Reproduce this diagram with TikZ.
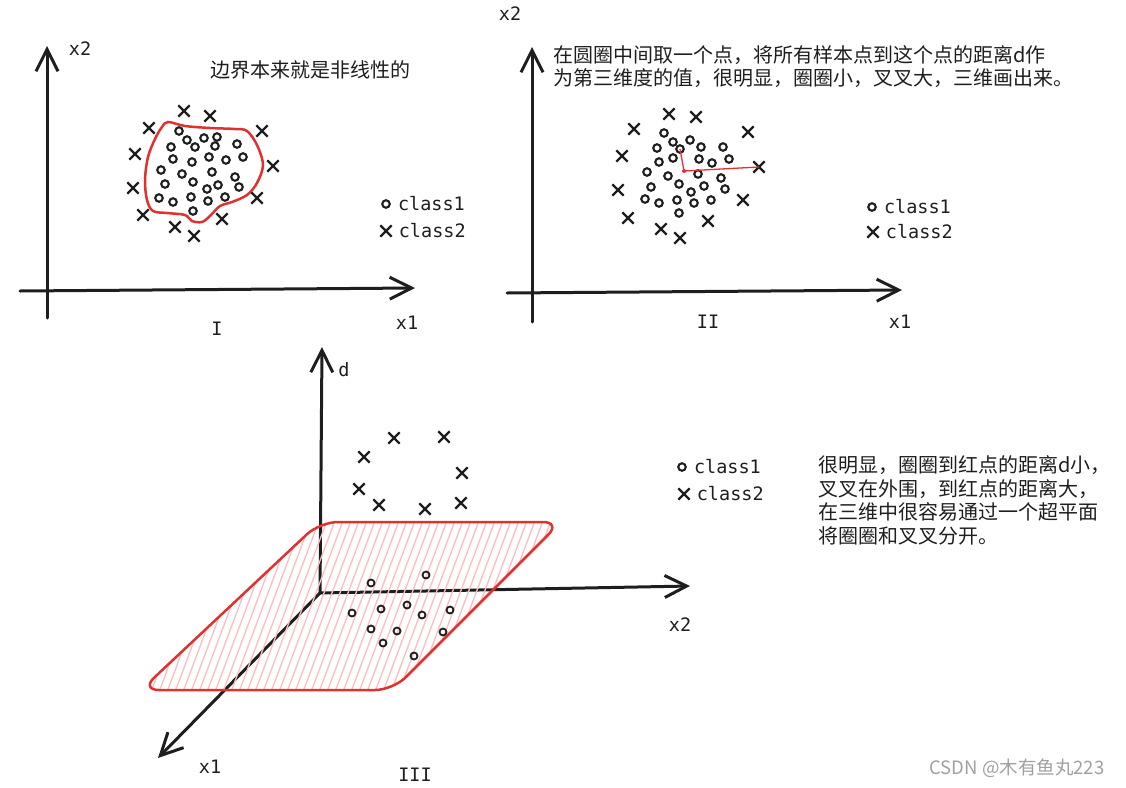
\documentclass[tikz,border=0pt]{standalone}
\usepackage{fontspec}
\setmainfont{Noto Sans CJK SC}
\newfontfamily\monofont{DejaVu Sans Mono}
\usetikzlibrary{arrows.meta,positioning,shapes.misc}
\definecolor{inkblack}{HTML}{1E1E1E}
\definecolor{exred}{HTML}{E03131}
\definecolor{hatchpink}{HTML}{FFBCBC}
\definecolor{markgray}{HTML}{A0A0A0}

\begin{document}
\begin{tikzpicture}[
  x=1pt, y=-1pt,
  axis/.style={draw=inkblack, line width=3pt, line cap=round,
    -{Straight Barb[length=22pt, width=22pt]}},
  ptcirc/.style={circle, draw=inkblack, line width=2.1pt, minimum size=7.5pt, inner sep=0pt},
  ptcross/.style={cross out, draw=inkblack, line width=2.3pt, minimum size=9pt, inner sep=0pt},
  ptcircs/.style={ptcirc, line width=1.8pt, minimum size=7pt},
  reddot/.style={circle, fill=exred, minimum size=4pt, inner sep=0pt},
  redline/.style={draw=exred, line width=1.3pt},
  blob/.style={draw=exred, line width=2.5pt},
  hatch/.style={draw=hatchpink, line width=1.3pt},
  lbl/.style={font=\monofont\fontsize{18.5}{20}\selectfont, text=inkblack, inner sep=0pt},
  note/.style={font=\fontsize{20}{23.6}\selectfont, text=inkblack, inner sep=0pt, align=left},
  wm/.style={font=\fontsize{18.5}{20}\selectfont, text=markgray, inner sep=0pt}
]
\useasboundingbox (0,0) rectangle (1126,787);

% ---- panel I
\coordinate (yb1) at (47,318);
\coordinate (yt1) at (47,46);
\coordinate (xl1) at (20,291);
\coordinate (xr1) at (415,288);
\draw[axis] (yb1) -- (yt1);
\draw[axis] (xl1) -- (xr1);
\node[lbl] (lx21) at (80,49) {x2};
\node[lbl] (lx11) at (407,323) {x1};
\node[lbl] (lI) at (217,329) {I};
\node[note] (t1) at (310,70) {边界本来就是非线性的};
\draw[blob] plot[smooth cycle, tension=0.55] coordinates {(168,122) (185,126) (210,128) (235,129)
  (247,131) (257,145) (263,165) (257,183) (247,195) (232,202) (220,206) (210,216) (202,222)
  (192,221) (185,215) (167,213) (153,211) (147,200) (145,180) (148,157) (155,139) (162,127)};
\foreach \px/\py [count=\i] in {179/131, 187/140, 195/147, 204/138, 217/137, 215/146, 237/144,
  171/147, 173/159, 192/162, 209/157, 226/160, 243/157, 161/170, 182/174, 212/172, 235/177,
  165/184, 193/182, 207/189, 218/185, 239/187, 159/198, 173/202, 191/197, 208/201, 225/197, 193/211}
  \node[ptcirc] (a\i) at (\px,\py) {};
\foreach \px/\py [count=\i] in {184/111, 210/116, 149/128, 262/131, 135/154, 273/166, 133/188,
  257/198, 143/215, 222/219, 175/227, 194/236}
  \node[ptcross] (u\i) at (\px,\py) {};
\node[ptcirc] (l1c) at (386,204) {};
\node[lbl, right=7pt of l1c] (l1t) {class1};
\node[ptcross] (l1x) at (386,231) {};
\node[lbl, right=7pt of l1x] (l1u) {class2};

% ---- panel II
\coordinate (yb2) at (532,322);
\coordinate (yt2) at (532,47);
\coordinate (xl2) at (507,293);
\coordinate (xr2) at (902,290);
\draw[axis] (yb2) -- (yt2);
\draw[axis] (xl2) -- (xr2);
\node[lbl] (lx22) at (510,14) {x2};
\node[lbl] (lx12) at (900,322) {x1};
\node[lbl] (lII) at (708,322) {II};
\node[note, anchor=west] (t2) at (553,66.5) {在圆圈中间取一个点，将所有样本点到这个点的距离d作\\为第三维度的值，很明显，圈圈小，叉叉大，三维画出来。};
\foreach \px/\py [count=\i] in {664/133, 673/142, 680/149, 690/140, 701/147, 723/147, 657/148,
  659/162, 673/158, 699/159, 712/163, 729/159, 647/172, 668/176, 698/174, 721/178, 651/187,
  679/184, 691/192, 704/186, 725/189, 645/199, 659/203, 677/200, 694/203, 711/200, 679/213}
  \node[ptcirc] (b\i) at (\px,\py) {};
\foreach \px/\py [count=\i] in {669/114, 696/117, 634/129, 748/132, 622/156, 759/167, 618/190,
  743/200, 628/218, 708/221, 661/229, 680/238}
  \node[ptcross] (v\i) at (\px,\py) {};
\node[reddot] (ctr) at (684,171) {};
\draw[redline] (b3.center) -- (ctr.center) -- (v6.center);
\node[ptcirc] (l2c) at (872,207) {};
\node[lbl, right=7pt of l2c] (l2t) {class1};
\node[ptcross] (l2x) at (873,232) {};
\node[lbl, right=7pt of l2x] (l2u) {class2};

% ---- panel III
\coordinate (o3) at (320,593);
\coordinate (d3) at (322,347);
\coordinate (x23) at (690,586);
\coordinate (x13) at (158,758);
\draw[axis] (o3) -- (d3);
\draw[axis] (o3) -- (x23);
\draw[axis] (o3) -- (x13);
\begin{scope}
  \clip[rounded corners=18pt] (141,690) -- (320,522) -- (561,522) -- (393,690) -- cycle;
  \foreach \hx in {60,68,...,620}
    \draw[hatch] (\hx,700) -- ++(68,-182);
\end{scope}
\draw[blob, rounded corners=18pt] (141,690) -- (320,522) -- (561,522) -- (393,690) -- cycle;
\node[lbl] (ld3) at (344,370) {d};
\node[lbl] (lx23) at (680,625) {x2};
\node[lbl] (lx13) at (210,767) {x1};
\node[lbl] (lIII) at (415,775) {III};
\foreach \px/\py [count=\i] in {394/438, 444/437, 364/457, 462/473, 359/489, 379/505, 425/509, 461/503}
  \node[ptcross] (w\i) at (\px,\py) {};
\foreach \px/\py [count=\i] in {371/583, 426/575, 352/613, 381/609, 407/605, 422/615, 450/610,
  371/629, 397/631, 443/632, 383/643, 414/656}
  \node[ptcircs] (c\i) at (\px,\py) {};
\node[ptcirc] (l3c) at (682,467) {};
\node[lbl, right=7pt of l3c] (l3t) {class1};
\node[ptcross] (l3x) at (684,494) {};
\node[lbl, right=7pt of l3x] (l3u) {class2};
\node[note, anchor=west] (t3) at (818,500.5) {很明显，圈圈到红点的距离d小，\\叉叉在外围，到红点的距离大，\\在三维中很容易通过一个超平面\\将圈圈和叉叉分开。};

\node[wm] (mark) at (1017,768) {CSDN @木有鱼丸223};
\end{tikzpicture}
\end{document}
